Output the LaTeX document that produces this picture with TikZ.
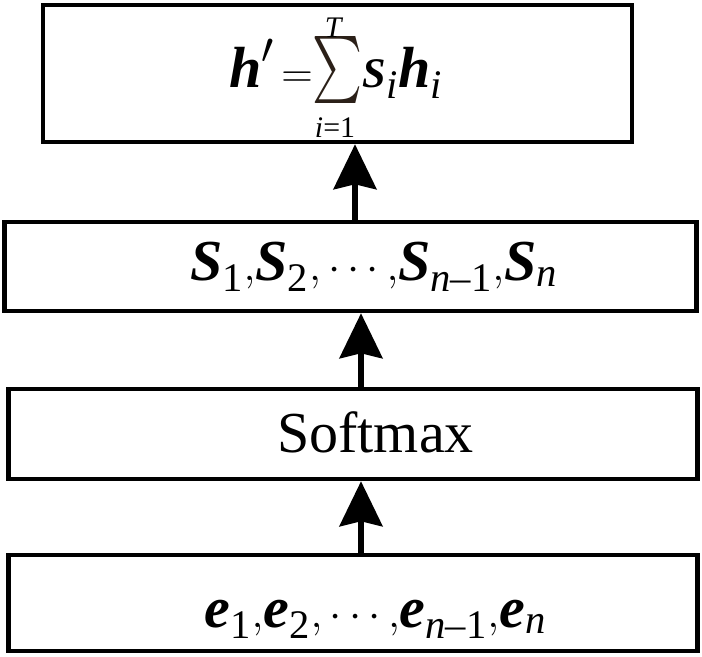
\documentclass[tikz,border=0pt]{standalone}
\usepackage{amsmath}
\usepackage{fontspec}
\setmainfont{Liberation Serif}
\usepackage{graphicx}
\usetikzlibrary{arrows.meta}

\definecolor{sumbrown}{RGB}{43,32,24}
\newcommand{\bv}[1]{\textbf{\textit{#1}}}
\newcommand{\sumop}{\mathop{\resizebox*{1cm}{1.34cm}{\color{sumbrown}$\textstyle\sum$}}}

\begin{document}
\begin{tikzpicture}[
  box/.style={draw, line width=2.6pt, inner sep=0pt},
  lbl/.style={anchor=base, inner sep=0pt, font=\fontsize{33}{40}\selectfont},
  lim/.style={anchor=base, inner sep=0pt, font=\fontsize{17}{18}\selectfont},
  arr/.style={-{Stealth[length=0.9cm, width=0.86cm, inset=0.1cm]}, line width=2.9pt}
]
\useasboundingbox (0,0) rectangle (14.04,13.12);

\node[box, minimum width=11.78cm, minimum height=2.74cm] (sumbox) at (6.75,11.65) {};
\node[box, minimum width=13.84cm, minimum height=1.78cm] (sbox) at (7.01,7.79) {};
\node[box, minimum width=13.78cm, minimum height=1.80cm] (softbox) at (7.06,4.44) {};
\node[box, minimum width=13.78cm, minimum height=1.92cm] (ebox) at (7.06,1.06) {};

\node[lbl] (sumtext) at (6.72,11.38) {$\bv{h}'\,{=}\!\sumop\!\text{\fontsize{24}{25}\selectfont\bv{S}}_{\textit{i}}\bv{h}_{\textit{i}}$};
\node[lim] (suptext) at (6.68,12.36) {\textit{T}};
\node[lim] (subtext) at (6.70,10.38) {\textit{i}=1};
\node[lbl] (stext) at (7.48,7.52) {$\bv{S}_{\text{1}}{,}\bv{S}_{\text{2}}{,}\cdots{,}\bv{S}_{\textit{n}\text{–1}}{,}\bv{S}_{\textit{n}}$};
\node[lbl] (softtext) at (7.51,4.08) {Softmax};
\node[lbl] (etext) at (7.51,0.58) {$\bv{e}_{\text{1}}{,}\bv{e}_{\text{2}}{,}\cdots{,}\bv{e}_{\textit{n}\text{–1}}{,}\bv{e}_{\textit{n}}$};

% arrows
\coordinate (a1) at ([xshift=0.09cm]sbox.north);
\coordinate (a2) at ([xshift=0.16cm]softbox.north);
\coordinate (a3) at ([xshift=0.16cm]ebox.north);
\draw[arr] (a1) -- (a1 |- sumbox.south);
\draw[arr] (a2) -- (a2 |- sbox.south);
\draw[arr] (a3) -- (a3 |- softbox.south);

\end{tikzpicture}
\end{document}
